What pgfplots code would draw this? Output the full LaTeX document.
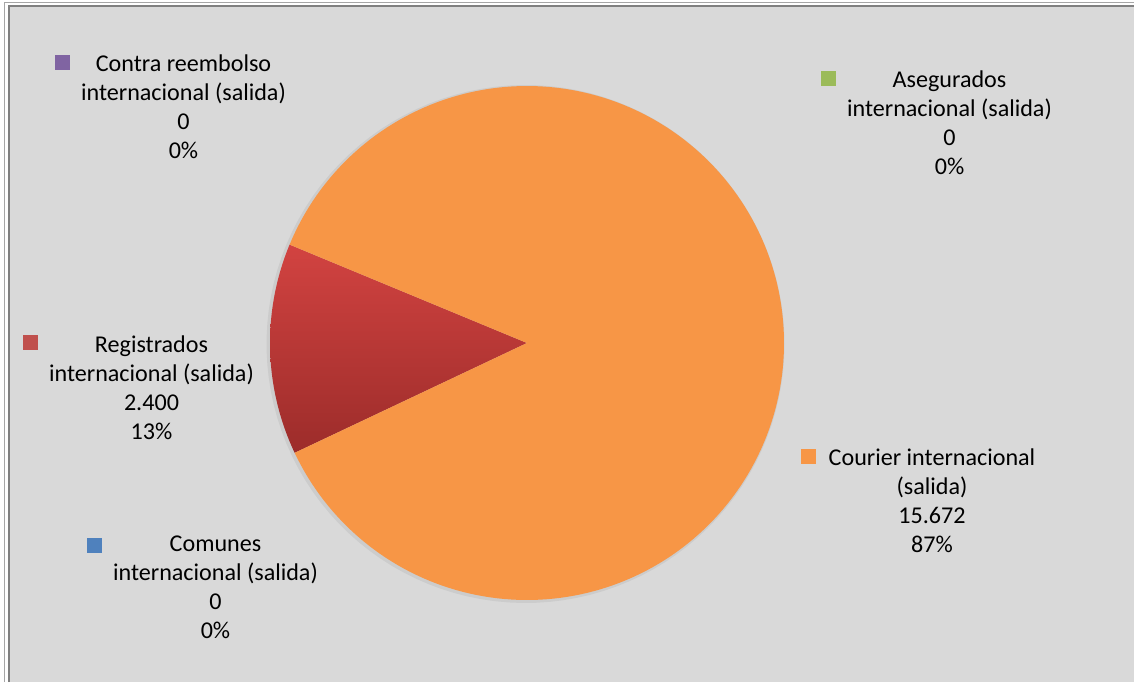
\documentclass[border=0pt]{standalone}
\usepackage{pgfplots}
\pgfplotsset{compat=1.18}
\usepackage{fontspec}
\setmainfont{Carlito}

\definecolor{bgc}{HTML}{D9D9D9}
\definecolor{cour}{HTML}{F79646}
\definecolor{regtop}{HTML}{D24341}
\definecolor{regbot}{HTML}{9C2C2A}
\definecolor{cpurp}{HTML}{8064A2}
\definecolor{cgreen}{HTML}{9BBB59}
\definecolor{cblue}{HTML}{4F81BD}
\definecolor{cred}{HTML}{C0504D}

% values of the series (envios internacionales de salida)
\def\vCom{0}
\def\vReg{2400}
\def\vCon{0}
\def\vAse{0}
\def\vCou{15672}

\begin{document}
\begin{tikzpicture}
\fontsize{12.05}{14.5}\selectfont
% in thousands, to stay below TeX's dimension limit
\pgfmathsetmacro\total{\vCom/1000+\vReg/1000+\vCon/1000+\vAse/1000+\vCou/1000}
\pgfmathsetmacro\aStart{205.3}
\pgfmathsetmacro\aReg{\aStart-360*(\vReg/1000)/\total}
\pgfmathsetmacro\aCou{\aReg-360*(\vCou/1000)/\total}
\begin{axis}[
    width=567pt, height=341pt, scale only axis,
    xmin=0, xmax=1134, ymin=0, ymax=682,
    hide axis,
]
    % background and frame
    \fill[white] (axis cs:0,0) rectangle (axis cs:1134,682);
    \fill[bgc] (axis cs:8,0) rectangle (axis cs:1134,675);
    \draw[gray!70, line width=0.6pt] (axis cs:4.5,0) |- (axis cs:1134,679.5);
    \draw[gray, line width=1pt] (axis cs:8.5,0) |- (axis cs:1134,675.5);

    % slight shadow of the pie
    \addplot[draw=none, fill=black, opacity=0.06, domain=0:360, samples=120, variable=\t]
        ({525.5+259*cos(t)},{338+259*sin(t)});

    % Registrados
    \addplot[draw=none, top color=regtop, bottom color=regbot, domain=\aStart:\aReg, samples=60, variable=\t]
        ({527+257*cos(t)},{339+257*sin(t)}) -- (axis cs:527,339) -- cycle;
    % Courier
    \addplot[draw=none, fill=cour, domain=\aReg:\aCou, samples=200, variable=\t]
        ({527+257*cos(t)},{339+257*sin(t)}) -- (axis cs:527,339) -- cycle;

    % legend keys of the data labels
    \addplot[only marks, mark=square*, mark size=3.5pt, cpurp] coordinates {(62,620)};
    \addplot[only marks, mark=square*, mark size=3.5pt, cgreen] coordinates {(828,604)};
    \addplot[only marks, mark=square*, mark size=3.5pt, cred] coordinates {(30,340)};
    \addplot[only marks, mark=square*, mark size=3.5pt, cour] coordinates {(808,226)};
    \addplot[only marks, mark=square*, mark size=3.5pt, cblue] coordinates {(94,137)};

    \node[align=center, inner sep=0] at (axis cs:183.5,575.5)
        {Contra reembolso\\internacional (salida)\\0\\0\%};
    \node[align=center, inner sep=0] at (axis cs:949.5,559.5)
        {Asegurados\\internacional (salida)\\0\\0\%};
    \node[align=center, inner sep=0] at (axis cs:151.5,294.5)
        {Registrados\\internacional (salida)\\2.400\\13\%};
    \node[align=center, inner sep=0] at (axis cs:932,181.5)
        {Courier internacional\\(salida)\\15.672\\87\%};
    \node[align=center, inner sep=0] at (axis cs:215.5,94.5)
        {Comunes\\internacional (salida)\\0\\0\%};
\end{axis}
\pgfresetboundingbox
\path[use as bounding box] (current axis.south west) rectangle (current axis.north east);
\end{tikzpicture}
\end{document}
